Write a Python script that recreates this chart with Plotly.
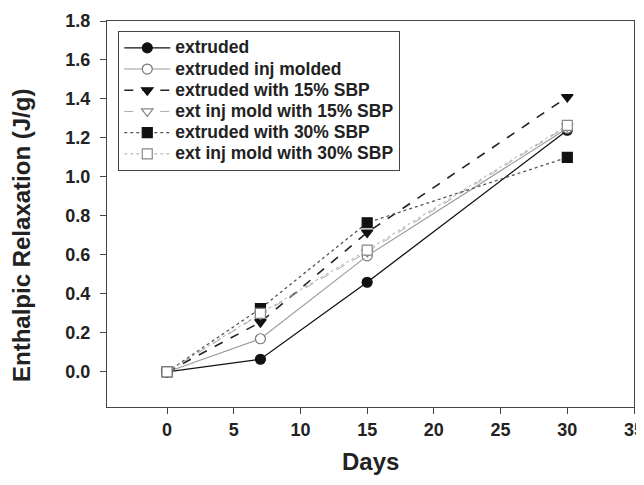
import plotly.graph_objects as go

days = [0, 7, 15, 30]
extruded = [0.0, 0.065, 0.46, 1.24]
extruded_inj_molded = [0.0, 0.17, 0.595, 1.25]
extruded_15 = [0.0, 0.255, 0.715, 1.41]
ext_inj_15 = [0.0, 0.295, 0.615, 1.26]
extruded_30 = [0.0, 0.325, 0.765, 1.10]
ext_inj_30 = [0.0, 0.30, 0.625, 1.265]

# name, values, line colour, dash, symbol, marker edge, fill, line width
series = [
    ("extruded", extruded, "#111111", "solid", "circle", "#111111", "#111111", 1.3),
    ("extruded inj molded", extruded_inj_molded, "#999999", "solid", "circle", "#777777", "white", 1.1),
    ("extruded with 15% SBP", extruded_15, "#222222", "dash", "triangle-down", "#111111", "#111111", 1.6),
    ("ext inj mold with 15% SBP", ext_inj_15, "#aaaaaa", "dash", "triangle-down", "#888888", "white", 1.0),
    ("extruded with 30% SBP", extruded_30, "#555555", "dot", "square", "#111111", "#111111", 1.3),
    ("ext inj mold with 30% SBP", ext_inj_30, "#aaaaaa", "dot", "square", "#888888", "white", 1.0),
]

fig = go.Figure()
for name, ys, lc, dash, sym, mc, fill, w in series:
    fig.add_trace(go.Scatter(
        x=days, y=ys, name='<span style="font-size:17.5px">' + name + '</span>',
        mode="lines+markers",
        line=dict(color=lc, dash=dash, width=w),
        marker=dict(symbol=sym, size=10, color=fill, line=dict(color=mc, width=1.2)),
    ))

FONT = "Liberation Sans, Arial"
tick_font = dict(family=FONT, size=18, color="#222222", weight="bold")
title_font = dict(family=FONT, size=24, color="#222222", weight="bold")
fig.update_layout(
    width=628, height=469,
    margin=dict(l=99, r=2, t=13, b=70),
    paper_bgcolor="white", plot_bgcolor="white",
    showlegend=True,
    legend=dict(x=0.021, y=0.974, xanchor="left", yanchor="top",
                bordercolor="#444444", borderwidth=1.2, bgcolor="white",
                font=dict(family=FONT, size=14, color="#222222", weight="bold"),
                tracegroupgap=0, itemwidth=46),
    xaxis=dict(range=[-4.5, 35], tickvals=[0, 5, 10, 15, 20, 25, 30, 35],
               ticks="outside", ticklen=6, tickcolor="#444444",
               showline=True, linecolor="#444444", linewidth=1.2, mirror=True,
               showgrid=False, zeroline=False, tickfont=tick_font,
               ticklabelstandoff=0, ticklabeloverflow="allow", automargin=False),
    yaxis=dict(range=[-0.18, 1.8], tickvals=[0, 0.2, 0.4, 0.6, 0.8, 1.0, 1.2, 1.4, 1.6, 1.8],
               tickformat=".1f",
               ticks="outside", ticklen=6, tickcolor="#444444",
               showline=True, linecolor="#444444", linewidth=1.2, mirror=True,
               showgrid=False, zeroline=False, tickfont=tick_font,
               ticklabelstandoff=6, automargin=False),
    annotations=[
        dict(text="Enthalpic Relaxation (J/g)", textangle=-90,
             xref="paper", yref="paper", x=-0.1613, y=0.4456,
             xanchor="center", yanchor="middle", showarrow=False, font=title_font),
        dict(text="Days", xref="paper", yref="paper", x=0.5, y=-0.142,
             xanchor="center", yanchor="middle", showarrow=False, font=title_font),
    ],
)
fig.write_html("out.html")
